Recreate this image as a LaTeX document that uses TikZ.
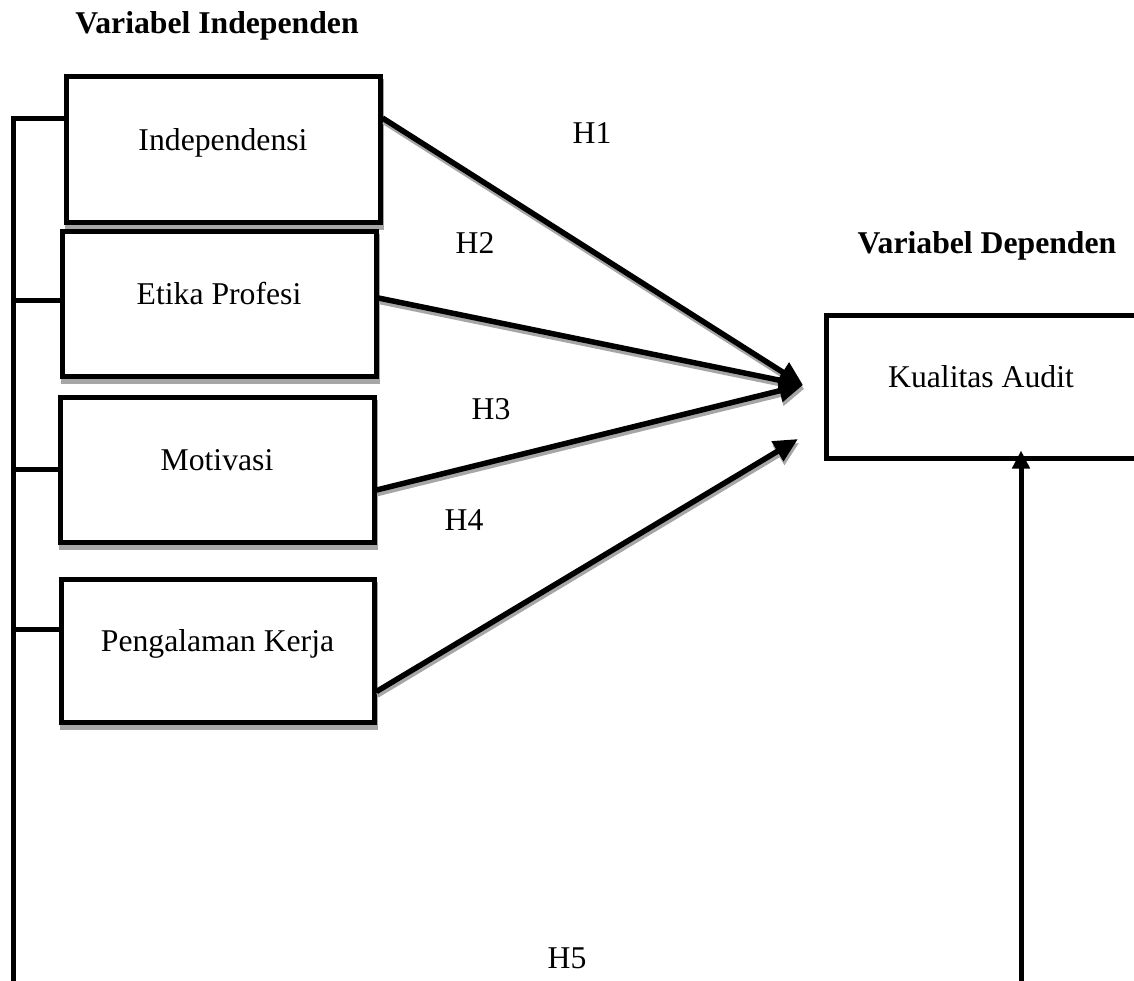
\documentclass[tikz,border=0pt]{standalone}
\usepackage{fontspec}
\setmainfont{Liberation Serif}
\usetikzlibrary{arrows.meta,calc}
\begin{document}
\begin{tikzpicture}[x=1pt,y=-1pt,
  every node/.style={font=\fontsize{31.7}{38}\selectfont},
  box/.style={draw,line width=5pt,fill=white,minimum width=314pt,minimum height=145pt,
    text height=22pt,text depth=20pt,inner sep=0pt,
    preaction={draw=gray!70,fill=gray!70,line width=5pt,transform canvas={shift={(1pt,-5pt)}}}},
  plainbox/.style={draw,line width=5pt,fill=white,minimum width=310pt,minimum height=143pt,
    text height=22pt,text depth=20pt,inner sep=0pt},
  conn/.style={line width=5pt},
  arr/.style={line width=5.5pt,-{Triangle[length=24pt,width=22pt]}},
  sarr/.style={line width=4.5pt,draw=gray!70,fill=gray!70,-{Triangle[length=24pt,width=22pt]},
    transform canvas={shift={(1pt,-4pt)}}},
  uparr/.style={line width=5pt,-{Triangle[length=18pt,width=17pt]}},
  title/.style={font=\fontsize{31.7}{38}\selectfont\bfseries},
  hyp/.style={font=\fontsize{31.7}{38}\selectfont}
]
\useasboundingbox (0,0) rectangle (1134,980);
\clip (0,0) rectangle (1134,980);

% titles
\node[title] (vi) at (217,26) {Variabel Independen};
\node[title] (vd) at (987,246) {Variabel Dependen};

% boxes
\node[box,minimum height=146pt] (ind) at (223,149) {Independensi};
\node[box] (eti) at (219,303.5) {Etika Profesi};
\node[box] (mot) at (217,469.5) {Motivasi};
\node[box,minimum width=313pt,minimum height=143pt] (pen) at (217.5,650.5) {Pengalaman Kerja};
\node[plainbox] (kua) at (981,386.5) {Kualitas Audit};

% left bus
\coordinate (bt) at (13,116);
\coordinate (bb) at (13,985);
\coordinate (b1) at (13,118);
\coordinate (b2) at (13,300);
\coordinate (b3) at (13,469.5);
\coordinate (b4) at (13,629);
\draw[conn] (bt) -- (bb);
\draw[conn] (b1) -- (b1 -| ind.west);
\draw[conn] (b2) -- (b2 -| eti.west);
\draw[conn] (b3) -- (mot.west);
\draw[conn] (b4) -- ([xshift=3pt]b4 -| pen.west);

% arrows to Kualitas Audit
\coordinate (tip) at (803,385);
\coordinate (tip4) at (798,439);
\coordinate (s1) at (b1 -| ind.east);
\coordinate (s2) at ([yshift=5.5pt]eti.east);
\coordinate (s3) at ([yshift=-20.5pt]mot.east);
\coordinate (s4) at ([yshift=-41pt]pen.east);

\draw[sarr] (s1) -- (tip);
\draw[sarr] (s2) -- (tip);
\draw[sarr] (s3) -- (tip);
\draw[sarr] (s4) -- (tip4);
\draw[arr] (s1) -- (tip);
\draw[arr] (s2) -- (tip);
\draw[arr] (s3) -- (tip);
\draw[arr] (s4) -- (tip4);

% right feedback line
\coordinate (r) at (1021,985);
\draw[uparr] (r) -- ([yshift=10pt]r |- kua.south);

% hypothesis labels
\node[hyp] (h1) at (592,133) {H1};
\node[hyp] (h2) at (475,243) {H2};
\node[hyp] (h3) at (491,409) {H3};
\node[hyp] (h4) at (464,520) {H4};
\node[hyp] (h5) at (567,958) {H5};
\end{tikzpicture}
\end{document}
